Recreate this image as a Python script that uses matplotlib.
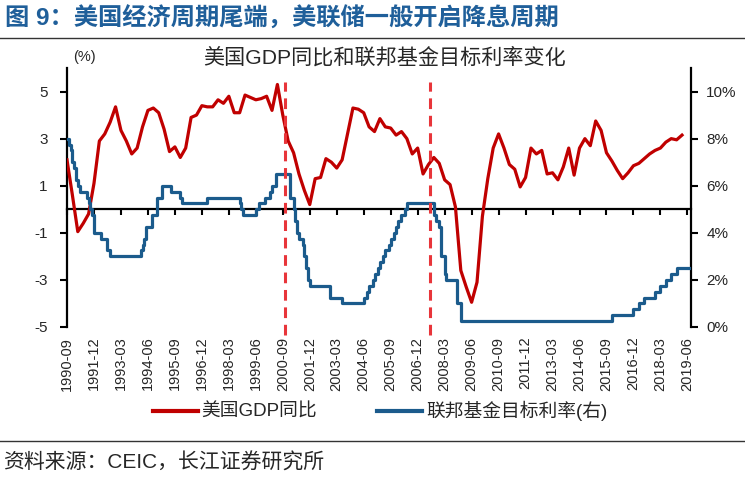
import matplotlib
matplotlib.use("Agg")
import matplotlib.pyplot as plt
from matplotlib.lines import Line2D
import pandas as pd

plt.rcParams['font.family'] = ['Liberation Sans', 'Noto Sans CJK SC', 'DejaVu Sans']
plt.rcParams['axes.unicode_minus'] = False

# ---------------- data ----------------
# monthly category axis
months = [str(p) for p in pd.period_range('1990-09', '2019-07', freq='M')]
tick_labels = ['1990-09', '1991-12', '1993-03', '1994-06', '1995-09', '1996-12',
               '1998-03', '1999-06', '2000-09', '2001-12', '2003-03', '2004-06',
               '2005-09', '2006-12', '2008-03', '2009-06', '2010-09', '2011-12',
               '2013-03', '2014-06', '2015-09', '2016-12', '2018-03', '2019-06']

# US real GDP YoY (%), quarterly (quarter-end months 1990-09 ... 2019-03)
gdp_months = [str(p) for p in pd.period_range('1990Q3', '2019Q1', freq='Q').asfreq('M', how='end')]
gdp_yoy = [2.1, 0.6, -0.95, -0.6, -0.2, 1.1, 2.9, 3.2, 3.7, 4.35,   # 1990Q3-1992Q4
           3.35, 2.9, 2.35, 2.6,     # 1993
           3.5, 4.2, 4.3, 4.1,       # 1994
           3.4, 2.45, 2.65, 2.2,     # 1995
           2.6, 3.9, 4.0, 4.4,       # 1996
           4.35, 4.35, 4.65, 4.5,    # 1997
           4.8, 4.1, 4.1, 4.85,      # 1998
           4.75, 4.65, 4.7, 4.8,     # 1999
           4.2, 5.3, 4.0, 2.9,       # 2000
           2.4, 1.5, 0.8, 0.2,       # 2001
           1.3, 1.35, 2.15, 2.0,     # 2002
           1.75, 2.1, 3.2, 4.3,      # 2003
           4.25, 4.1, 3.5, 3.3,      # 2004
           3.85, 3.5, 3.45, 3.15,    # 2005
           3.3, 3.0, 2.35, 2.6,      # 2006
           1.5, 1.9, 2.2, 1.95,      # 2007
           1.25, 1.05, 0.1, -2.6,    # 2008
           -3.3, -3.95, -3.1, -0.3,  # 2009
           1.3, 2.6, 3.2, 2.6,       # 2010
           1.9, 1.7, 0.95, 1.35,     # 2011
           2.6, 2.35, 2.5, 1.5,      # 2012
           1.55, 1.25, 1.8, 2.6,     # 2013
           1.45, 2.6, 3.0, 2.7,      # 2014
           3.75, 3.35, 2.4, 2.05,    # 2015
           1.65, 1.3, 1.55, 1.85,    # 2016
           1.95, 2.15, 2.35, 2.5,    # 2017
           2.6, 2.85, 3.0, 2.95,     # 2018
           3.15]                     # 2019Q1

# Fed funds target rate (upper, %), change months
fed_months = ['1990-09', '1990-10', '1990-11', '1990-12', '1991-01', '1991-02', '1991-03',
              '1991-04', '1991-08', '1991-09', '1991-10', '1991-11', '1991-12', '1992-04',
              '1992-07', '1992-09', '1994-02', '1994-03', '1994-04', '1994-05', '1994-08',
              '1994-11', '1995-02', '1995-07', '1995-12', '1996-01', '1997-03', '1998-09',
              '1998-10', '1998-11', '1999-06', '1999-08', '1999-11', '2000-02', '2000-03',
              '2000-05', '2001-01', '2001-03', '2001-04', '2001-05', '2001-06', '2001-08',
              '2001-09', '2001-10', '2001-11', '2001-12', '2002-11', '2003-06', '2004-06',
              '2004-08', '2004-09', '2004-11', '2004-12', '2005-02', '2005-03', '2005-05',
              '2005-06', '2005-08', '2005-09', '2005-11', '2005-12', '2006-01', '2006-03',
              '2006-05', '2006-06', '2007-09', '2007-10', '2007-12', '2008-01', '2008-03',
              '2008-04', '2008-10', '2008-12', '2015-12', '2016-12', '2017-03', '2017-06',
              '2017-12', '2018-03', '2018-06', '2018-09', '2018-12', '2019-07']
fed_rates = [8.0, 7.75, 7.5, 7.0, 6.75, 6.25, 6.0,
             5.75, 5.5, 5.25, 5.0, 4.75, 4.0, 3.75,
             3.25, 3.0, 3.25, 3.5, 3.75, 4.25, 4.75,
             5.5, 6.0, 5.75, 5.5, 5.25, 5.5, 5.25,
             5.0, 4.75, 5.0, 5.25, 5.5, 5.75, 6.0,
             6.5, 5.5, 5.0, 4.5, 4.0, 3.75, 3.5,
             3.0, 2.5, 2.0, 1.75, 1.25, 1.0, 1.25,
             1.5, 1.75, 2.0, 2.25, 2.5, 2.75, 3.0,
             3.25, 3.5, 3.75, 4.0, 4.25, 4.5, 4.75,
             5.0, 5.25, 4.75, 4.5, 4.25, 3.0, 2.25,
             2.0, 1.0, 0.25, 0.5, 0.75, 1.0, 1.25,
             1.5, 1.75, 2.0, 2.25, 2.5, 2.5]

cut_markers = ['2000-10', '2007-07']

# ---------------- styles ----------------
RED = '#C00000'
BLUE = '#1B5B8C'
DASH = '#E8353A'
TITLE_BLUE = '#1F5F9A'
TXT = '#262626'

pos = {m: i for i, m in enumerate(months)}

fig = plt.figure(figsize=(7.45, 4.8), dpi=100)
ax = fig.add_axes([67/745, 1-327/480, (691-67)/745, (327-68)/480])
ax2 = ax.twinx()

# GDP line (left axis)
ax.plot([pos[m] for m in gdp_months], gdp_yoy, color=RED, lw=2.3, solid_joinstyle='round', zorder=3)
ax.set_ylim(-5, 6)
ax.set_yticks([-5, -3, -1, 1, 3, 5])
ax.set_xlim(0, 347)

# Fed funds (right axis)
ax2.step([pos[m] for m in fed_months], fed_rates, where='post', color=BLUE, lw=2.3, zorder=3)
ax2.set_ylim(0, 11)
ax2.set_yticks([0, 2, 4, 6, 8, 10])
ax2.set_yticklabels([f'{v}%' for v in [0, 2, 4, 6, 8, 10]])

# dashed markers
for m in cut_markers:
    ax2.plot([pos[m], pos[m]], [-0.03, 0.947], transform=ax2.get_xaxis_transform(),
             color=DASH, lw=2.2, ls=(0, (3.5, 2.2)), clip_on=False, zorder=4)

# spines
for s in ['top', 'right']:
    ax.spines[s].set_visible(False)
ax.spines['bottom'].set_position(('data', 0))
ax.spines['bottom'].set_linewidth(1.6)
ax.spines['left'].set_linewidth(1.6)
for s in ['top', 'left', 'bottom']:
    ax2.spines[s].set_visible(False)
ax2.spines['right'].set_linewidth(1.6)

ax.set_xticks([pos[m] for m in tick_labels])
ax.tick_params(axis='x', labelbottom=False, direction='out', length=4, width=1.5)
ax.tick_params(axis='y', direction='out', length=5, width=1.5, labelsize=11, labelcolor=TXT, pad=9)
ax2.tick_params(axis='y', direction='out', length=5, width=1.5, labelsize=11, labelcolor=TXT, pad=6)

sec = ax.secondary_xaxis(0)
sec.set_xticks([pos[m] for m in tick_labels])
sec.set_xticklabels(tick_labels, rotation=90, fontsize=10.5, color=TXT)
sec.tick_params(axis='x', length=0, pad=7)
sec.spines['bottom'].set_visible(False)

# texts
fig.text(5/745, 1-19/480, '图 9：美国经济周期尾端，美联储一般开启降息周期', fontsize=17.5,
         fontweight='bold', color=TITLE_BLUE, va='center', ha='left')
fig.add_artist(Line2D([0, 1], [1-38/480, 1-38/480], color='#333333', lw=1.0))
fig.text(385/745, 1-57/480, '美国GDP同比和联邦基金目标利率变化', fontsize=15.2, color=TXT,
         va='center', ha='center')
fig.text(84/745, 1-57/480, '(%)', fontsize=10.5, color=TXT, va='center', ha='center')

handles = [Line2D([], [], color=RED, lw=3), Line2D([], [], color=BLUE, lw=3)]
fig.legend(handles, ['美国GDP同比', '联邦基金目标利率(右)'], loc='center',
           bbox_to_anchor=(380/745, 1-411/480), ncol=2, frameon=False, fontsize=13.5,
           handlelength=2.4, handletextpad=0.2, columnspacing=3.2, labelcolor=TXT)

fig.add_artist(Line2D([0, 1], [1-441/480, 1-441/480], color='#333333', lw=1.0))
fig.text(3/745, 1-463/480, '资料来源：CEIC，长江证券研究所', fontsize=15, color=TXT,
         va='center', ha='left')

fig.savefig('out.png', dpi=100)
